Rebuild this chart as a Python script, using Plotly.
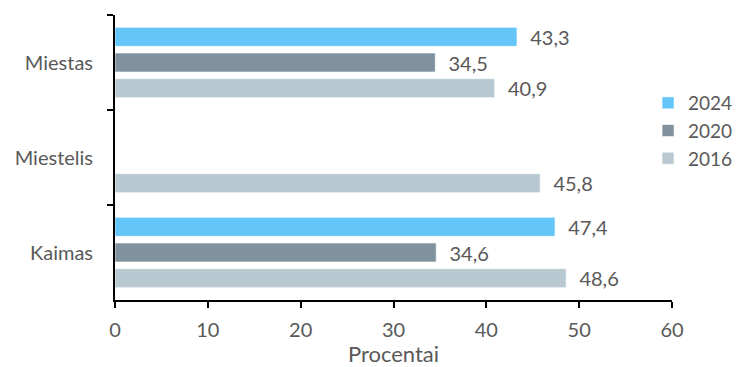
import plotly.graph_objects as go

categories = ["Miestas", "Miestelis", "Kaimas"]
years = ["2024", "2020", "2016"]
values_2024 = [43.3, None, 47.4]
values_2020 = [34.5, None, 34.6]
values_2016 = [40.9, 45.8, 48.6]
series = [values_2024, values_2020, values_2016]
colors = ["#63C5F8", "#7F929D", "#B9C9D2"]

FONT = "Lato"
GRAY = "#595959"

fig = go.Figure()
for name, vals, col in zip(years, series, colors):
    txt = ["" if v is None else "  " + f"{v:.1f}".replace(".", ",") for v in vals]
    fig.add_trace(go.Bar(
        y=categories, x=vals, name=name, orientation="h",
        marker=dict(color=col, line=dict(color="rgba(255,255,255,0.6)", width=1)),
        text=txt, textposition="outside", cliponaxis=False, constraintext="none",
        textfont=dict(family=FONT, size=20, color=GRAY),
    ))

# page body adds an 8px offset, so the figure is drawn 8px smaller
fig.update_layout(
    width=733, height=359,
    margin=dict(l=107, r=69, t=7, b=67, autoexpand=False),
    paper_bgcolor="white", plot_bgcolor="white",
    barmode="group", bargap=0.19, bargroupgap=0.26,
    font=dict(family=FONT, color=GRAY, size=20),
    legend=dict(x=0.957, y=0.758, xanchor="left", yanchor="top",
                font=dict(family=FONT, size=19, color=GRAY),
                itemwidth=30, tracegroupgap=0, bgcolor="rgba(0,0,0,0)"),
    xaxis=dict(range=[0, 60], dtick=10, showline=True, linecolor="black", linewidth=2,
               ticks="outside", ticklen=6, tickwidth=2, tickcolor="black",
               showgrid=False, zeroline=False, ticklabelstandoff=5,
               tickfont=dict(family=FONT, size=20, color=GRAY),
               title=dict(text="Procentai", font=dict(family=FONT, size=22, color=GRAY), standoff=4)),
    yaxis=dict(autorange="reversed", showline=True, linecolor="black", linewidth=2,
               ticks="outside", ticklen=6, tickwidth=2, tickcolor="black", tickson="boundaries",
               showgrid=False, ticklabelstandoff=16,
               tickfont=dict(family=FONT, size=20, color=GRAY)),
)

fig.write_html("out.html")
